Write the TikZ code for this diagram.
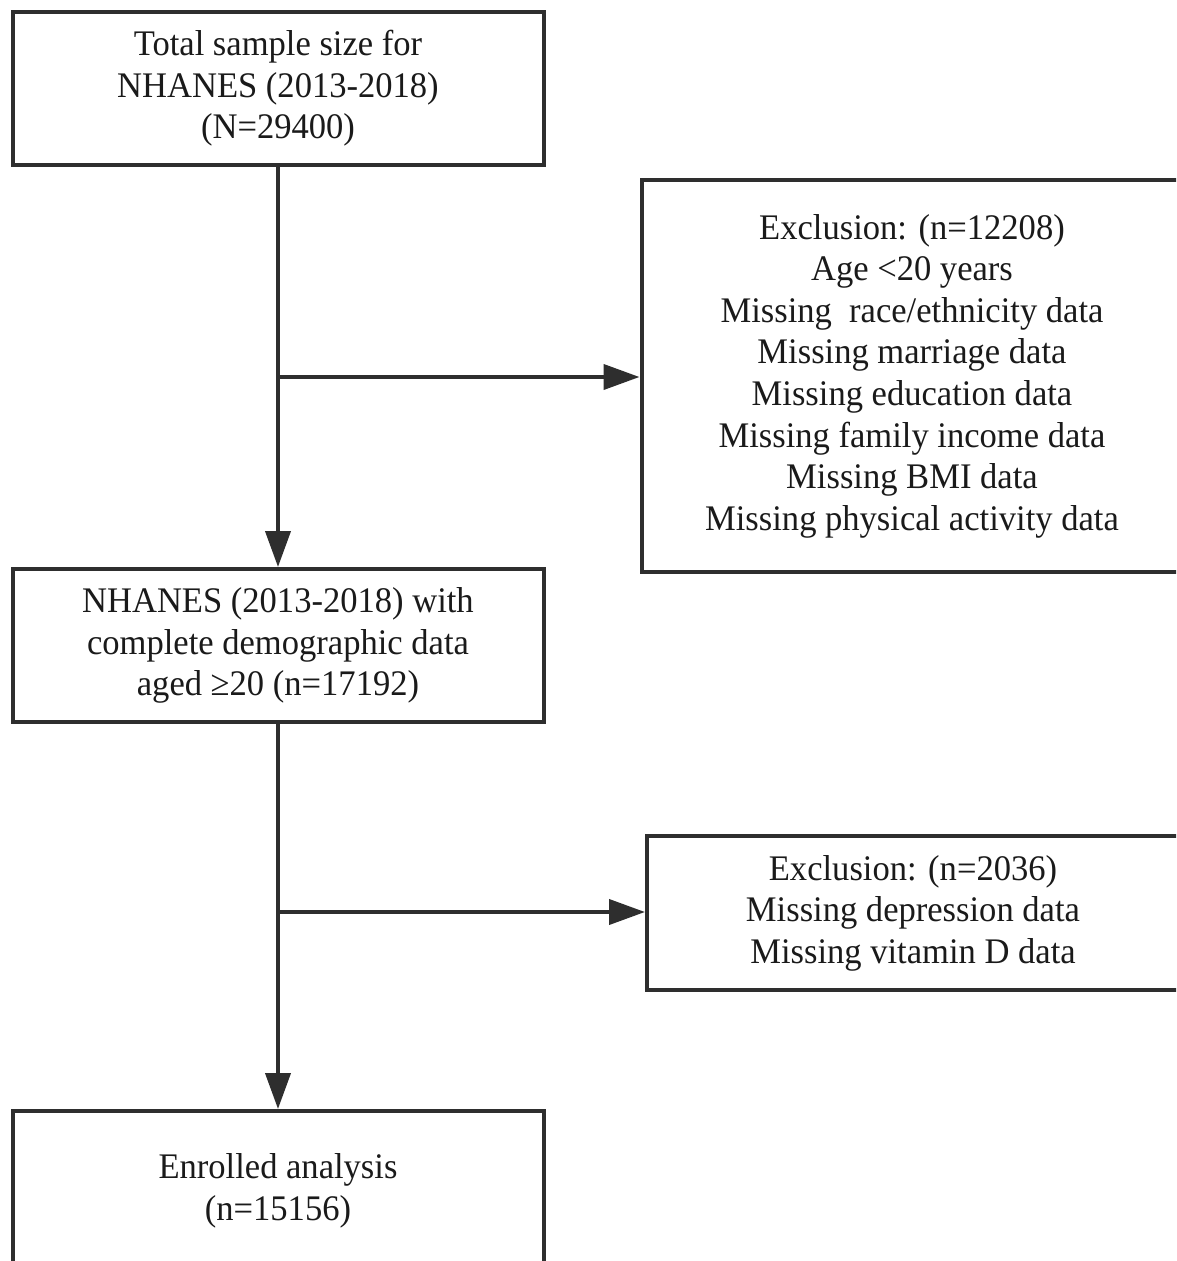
\documentclass[tikz,border=0pt]{standalone}
\usepackage{fontspec}
\setmainfont{Liberation Serif}[FakeStretch=0.96]
\usetikzlibrary{arrows.meta}
\definecolor{linegray}{HTML}{2E2E2E}
\definecolor{textgray}{HTML}{1A1A1A}
\tikzset{
  flowbox/.style={draw=linegray, line width=4pt, fill=white, rectangle,
    align=center, text=textgray, inner sep=0pt,
    font=\fontsize{36pt}{41.6pt}\selectfont},
  flowarrow/.style={draw=linegray, line width=4pt,
    -{Triangle[length=36pt,width=25pt]}},
  flowline/.style={draw=linegray, line width=4pt}
}
\begin{document}
\begin{tikzpicture}[x=1pt,y=-1pt]
\useasboundingbox (0,0) rectangle (1176,1261);
\fill[white] (0,0) rectangle (1176,1261);
\clip (0,0) rectangle (1176,1261);

\node[flowbox, minimum width=531pt, minimum height=153pt] (b1) at (278,88.5)
  {Total sample size for\\NHANES (2013-2018)\\(N=29400)};

\node[flowbox, minimum width=541pt, minimum height=392pt] (b2) at (912,376)
  {Exclusion: (n=12208)\\Age <20 years\\Missing~ race/ethnicity data\\Missing marriage data\\Missing education data\\Missing family income data\\Missing BMI data\\Missing physical activity data};

\node[flowbox, minimum width=531pt, minimum height=153pt] (b3) at (278,645.5)
  {NHANES (2013-2018) with\\complete demographic data\\aged ≥20 (n=17192)};

\node[flowbox, minimum width=532pt, minimum height=154pt] (b4) at (913,913)
  {Exclusion: (n=2036)\\Missing depression data\\Missing vitamin D data};

\node[flowbox, minimum width=531pt, minimum height=160pt] (b5) at (278,1191)
  {Enrolled analysis\\(n=15156)};

\coordinate (j1) at (278,377);
\coordinate (j2) at (278,912);

\draw[flowarrow] (b1.south) -- (b3.north);
\draw[flowarrow] (j1) -- (j1 -| b2.west);
\draw[flowarrow] (b3.south) -- (b5.north);
\draw[flowarrow] (j2) -- (j2 -| b4.west);
\end{tikzpicture}
\end{document}
